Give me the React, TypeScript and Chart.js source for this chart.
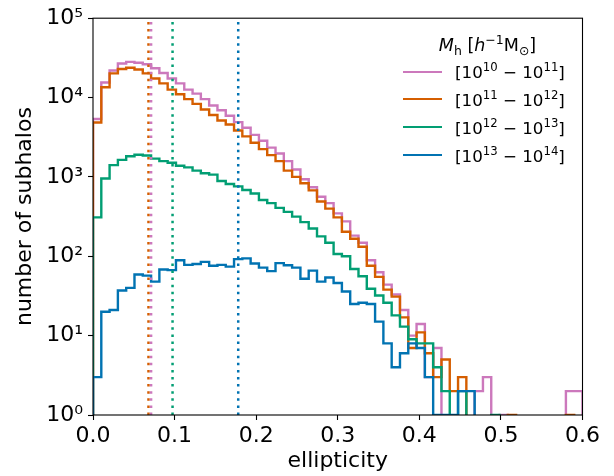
import React, { useEffect, useRef } from 'react';
import { Chart, registerables } from 'chart.js';

Chart.register(...registerables);

// ---- data ----
const X_MAX = 0.6;
const N_BINS = 59;
const X_TICKS = [0, 0.1, 0.2, 0.3, 0.4, 0.5, 0.6];
const Y_TICKS = [1, 10, 100, 1000, 10000, 100000];

const SERIES_LABELS = ['[10¹⁰ − 10¹¹]', '[10¹¹ − 10¹²]', '[10¹² − 10¹³]', '[10¹³ − 10¹⁴]'];
const SERIES_EXPONENTS = [['10', '11'], ['11', '12'], ['12', '13'], ['13', '14']];
const COLORS = ['#cc78bc', '#d55e00', '#029e73', '#0173b2'];

const COUNTS_1E10 = [
  5370, 15500, 21900, 26900, 28200, 27500, 26300, 23400, 20400, 17400,
  15100, 12600, 11200, 9550, 7940, 6920, 5890, 4900, 4170, 3390,
  2850, 2340, 1970, 1580, 1240, 933, 741, 562, 468, 347,
  275, 182, 148, 89, 63, 44, 33, 21, 10, 14,
  3, 7, 0, 0, 0, 0, 2, 3, 0, 1,
  0, 0, 0, 0, 0, 0, 0, 2, 2,
];
const COUNTS_1E11 = [
  4840, 13500, 20200, 22900, 23700, 22600, 20200, 17400, 15100, 12600,
  11000, 9550, 8320, 7080, 6030, 5130, 4570, 3850, 3240, 2690,
  2240, 1880, 1580, 1200, 1000, 832, 676, 490, 398, 309,
  204, 166, 132, 76, 55, 38, 31, 17, 7, 11,
  6, 3, 5, 2, 3, 0, 0, 0, 0, 0,
  1, 0, 0, 0, 0, 0, 0, 1, 0,
];
const COUNTS_1E12 = [
  309, 955, 1410, 1640, 1820, 1900, 1860, 1700, 1580, 1510,
  1380, 1320, 1200, 1110, 1070, 890, 813, 759, 684, 617,
  513, 468, 407, 363, 316, 269, 224, 178, 148, 107,
  100, 69, 56, 39, 32, 26, 18, 13, 9, 8,
  8, 4, 2, 0, 2, 0, 0, 0, 1, 0,
  0, 0, 0, 0, 0, 0, 0, 0, 0,
];
const COUNTS_1E13 = [
  3, 20, 21, 37, 40, 59, 57, 48, 68, 67,
  89, 78, 80, 85, 76, 78, 74, 92, 94, 81,
  72, 65, 82, 77, 72, 52, 66, 48, 54, 46,
  36, 25, 26, 25, 15, 8, 4, 6, 8, 7,
  3, 1, 1, 1, 2, 2, 0, 0, 0, 0,
  0, 0, 0, 0, 0, 0, 0, 0, 0,
];
const ALL_COUNTS = [COUNTS_1E10, COUNTS_1E11, COUNTS_1E12, COUNTS_1E13];

// median ellipticity per mass bin (dotted vertical lines)
const MEDIANS = [0.0712, 0.068, 0.0975, 0.178];

// ---- helpers ----
const FLOOR = 0.01; // zero counts fall below the log axis
const SUP = '⁰¹²³⁴⁵⁶⁷⁸⁹';
const toSup = (s: string) => s.split('').map((c) => SUP[+c]).join('');

const edges = Array.from({ length: N_BINS + 1 }, (_, i) => (i * X_MAX) / N_BINS);

function stepPoints(counts: number[]) {
  const v = (c: number) => (c > 0 ? c : FLOOR);
  const pts: { x: number; y: number }[] = [{ x: edges[0], y: FLOOR }];
  counts.forEach((c, i) => pts.push({ x: edges[i], y: v(c) }));
  pts.push({ x: edges[counts.length], y: v(counts[counts.length - 1]) });
  pts.push({ x: edges[counts.length], y: FLOOR });
  return pts;
}

const FONT = "'DejaVu Sans', sans-serif";

const boxPlugin = {
  id: 'axesBox',
  afterDatasetsDraw(chart: any) {
    const { ctx, chartArea } = chart;
    ctx.save();
    ctx.strokeStyle = '#000';
    ctx.lineWidth = 1.1;
    ctx.strokeRect(chartArea.left, chartArea.top, chartArea.right - chartArea.left, chartArea.bottom - chartArea.top);
    ctx.restore();
  },
};

function Legend() {
  const rowsY = [71.7, 99.3, 127.3, 155];
  const base: React.CSSProperties = {
    position: 'absolute',
    fontFamily: FONT,
    fontSize: 16.7,
    lineHeight: '20px',
    whiteSpace: 'nowrap',
    color: '#000',
  };
  const sup: React.CSSProperties = { fontSize: 11.7, position: 'relative', top: -7, verticalAlign: 'baseline', lineHeight: 0 };
  const tsup: React.CSSProperties = { fontSize: 12.5, position: 'relative', top: -7, verticalAlign: 'baseline', lineHeight: 0 };
  const tsub: React.CSSProperties = { fontSize: 12.5, position: 'relative', top: 4, verticalAlign: 'baseline', lineHeight: 0 };
  return (
    <>
      <div style={{ ...base, fontSize: 17.5, left: 387, width: 201, top: 35, textAlign: 'center' }}>
        <i>M</i>
        <span style={tsub}>h</span> [<i>h</i>
        <span style={tsup}>−1</span>M<span style={tsub}>⊙</span>]
      </div>
      {SERIES_EXPONENTS.map((ex, i) => (
        <React.Fragment key={i}>
          <div
            style={{
              position: 'absolute',
              left: 403,
              top: rowsY[i] - 1.2,
              width: 39,
              height: 2.4,
              background: COLORS[i],
            }}
          />
          <div style={{ ...base, left: 455, top: rowsY[i] - 9.5 }} aria-label={SERIES_LABELS[i]}>
            [10<span style={sup}>{ex[0]}</span> − 10<span style={sup}>{ex[1]}</span>]
          </div>
        </React.Fragment>
      ))}
    </>
  );
}

export default function App() {
  const ref = useRef<HTMLCanvasElement>(null);

  useEffect(() => {
    if (!ref.current) return;
    const histSets = ALL_COUNTS.map((counts, i) => ({
      label: SERIES_LABELS[i],
      data: stepPoints(counts),
      borderColor: COLORS[i],
      backgroundColor: COLORS[i],
      borderWidth: 2.4,
      pointRadius: 0,
      stepped: true,
      fill: false,
      tension: 0,
      borderJoinStyle: 'miter' as const,
      order: 4 - i,
    }));
    const medianSets = MEDIANS.map((m, i) => ({
      label: 'median ' + SERIES_LABELS[i],
      data: [
        { x: m, y: Y_TICKS[0] },
        { x: m, y: Y_TICKS[Y_TICKS.length - 1] },
      ],
      borderColor: COLORS[i],
      borderWidth: 2.5,
      borderDash: [2.5, 4.6],
      pointRadius: 0,
      fill: false,
      order: 0,
    }));

    const chart = new Chart(ref.current, {
      type: 'line',
      data: { datasets: [...histSets, ...medianSets] as any },
      plugins: [boxPlugin],
      options: {
        responsive: false,
        devicePixelRatio: 1,
        animation: false,
        layout: { padding: { top: 17, right: 31.5, left: 0, bottom: 0 } },
        plugins: { legend: { display: false }, tooltip: { enabled: false } },
        scales: {
          x: {
            type: 'linear',
            min: 0,
            max: X_MAX,
            afterBuildTicks: (s: any) => {
              s.ticks = X_TICKS.map((v) => ({ value: v }));
            },
            afterFit: (s: any) => {
              s.height = 61;
            },
            ticks: {
              callback: (v: any) => Number(v).toFixed(1),
              font: { family: FONT, size: 22 },
              color: '#000',
              padding: 3,
              maxRotation: 0,
            },
            grid: { drawOnChartArea: false, drawTicks: true, tickLength: 5, tickWidth: 1.1, tickColor: '#000' },
            border: { display: false },
            title: {
              display: true,
              text: 'ellipticity',
              font: { family: FONT, size: 22 },
              color: '#000',
              padding: { top: 0, bottom: 2 },
            },
          },
          y: {
            type: 'logarithmic',
            min: Y_TICKS[0],
            max: Y_TICKS[Y_TICKS.length - 1],
            afterBuildTicks: (s: any) => {
              s.ticks = Y_TICKS.map((v) => ({ value: v, major: true }));
            },
            afterFit: (s: any) => {
              s.width = 93;
            },
            ticks: {
              callback: (v: any) => '10' + toSup(String(Math.round(Math.log10(Number(v))))),
              font: { family: FONT, size: 22 },
              color: '#000',
              padding: 5,
              autoSkip: false,
            },
            grid: { drawOnChartArea: false, drawTicks: true, tickLength: 5, tickWidth: 1.1, tickColor: '#000' },
            border: { display: false },
            title: {
              display: true,
              text: 'number of subhalos',
              font: { family: FONT, size: 22 },
              color: '#000',
              padding: { top: 12, bottom: 0 },
            },
          },
        },
      },
    });
    return () => chart.destroy();
  }, []);

  return (
    <div style={{ position: 'fixed', left: 0, top: 0, width: 614, height: 476, background: '#fff' }}>
      <canvas ref={ref} width={614} height={476} style={{ display: 'block', width: 614, height: 476 }} />
      <Legend />
    </div>
  );
}
